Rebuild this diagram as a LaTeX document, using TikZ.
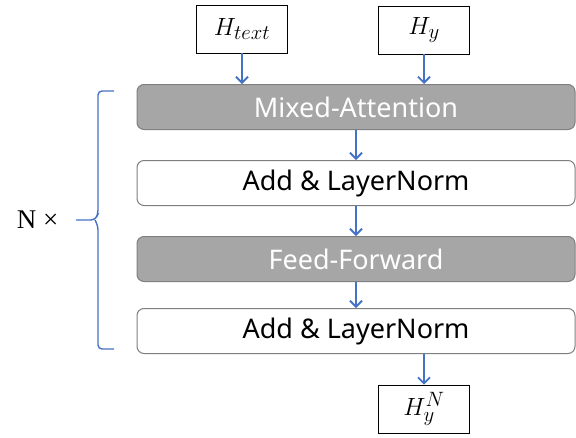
\documentclass[tikz,border=0pt]{standalone}
\usepackage{fontspec}
\setmainfont{Noto Sans}
\newfontfamily\serifface{Liberation Serif}
\usetikzlibrary{arrows.meta}
\definecolor{flowblue}{HTML}{4472C4}
\definecolor{layergray}{HTML}{A6A6A6}
\definecolor{edgegray}{HTML}{7F7F7F}
\begin{document}
\begin{tikzpicture}[x=1pt,y=-1pt,
  layer/.style={draw=edgegray, line width=1pt, rounded corners=7pt,
    minimum width=438pt, minimum height=45pt, inner sep=0pt,
    font=\fontsize{27}{30}\selectfont},
  darklayer/.style={layer, fill=layergray, text=white},
  lightlayer/.style={layer, fill=white, text=black},
  iobox/.style={draw=black, line width=0.8pt, fill=white,
    minimum width=91pt, minimum height=48pt, inner sep=0pt,
    font=\fontsize{30}{34}\selectfont},
  flow/.style={draw=flowblue, line width=1.8pt,
    -{Straight Barb[length=6pt,width=12pt,line width=1.8pt]}}]
\useasboundingbox (0,0) rectangle (576,437);

\node[darklayer]  (mix)  at (356,107) {Mixed-Attention};
\node[lightlayer] (add1) at (356,183) {Add \& LayerNorm};
\node[darklayer]  (ff)   at (356,259) {Feed-Forward};
\node[lightlayer] (add2) at (356,331) {Add \& LayerNorm};

\node[iobox] (htext) at (242,29) {$H_{text}$};
\node[iobox] (hy)    at (424,30) {$H_y$};
\node[iobox] (hyn)   at (424,409) {$H_y^N$};

\draw[flow] (htext.south) -- (htext.south |- mix.north);
\draw[flow] (hy.south) -- (hy.south |- mix.north);
\draw[flow] (mix.south) -- (add1.north);
\draw[flow] (add1.south) -- (ff.north);
\draw[flow] (ff.south) -- (add2.north);
\draw[flow] (add2.south -| hyn.north) -- (hyn.north);

% brace spanning the repeated block
\coordinate (btop) at (114,91);
\coordinate (bbot) at (114,349);
\coordinate (btip) at (76,220);
\draw[flowblue, line width=1.4pt, rounded corners=4pt]
  (btop) -- (98,91) -- (98,214) -- (95,220) -- (btip);
\draw[flowblue, line width=1.4pt, rounded corners=4pt]
  (bbot) -- (98,349) -- (98,226) -- (95,220);

\node[font=\serifface\fontsize{27}{30}\selectfont, anchor=east] (rep) at (62,220) {N \texttimes};
\end{tikzpicture}
\end{document}
